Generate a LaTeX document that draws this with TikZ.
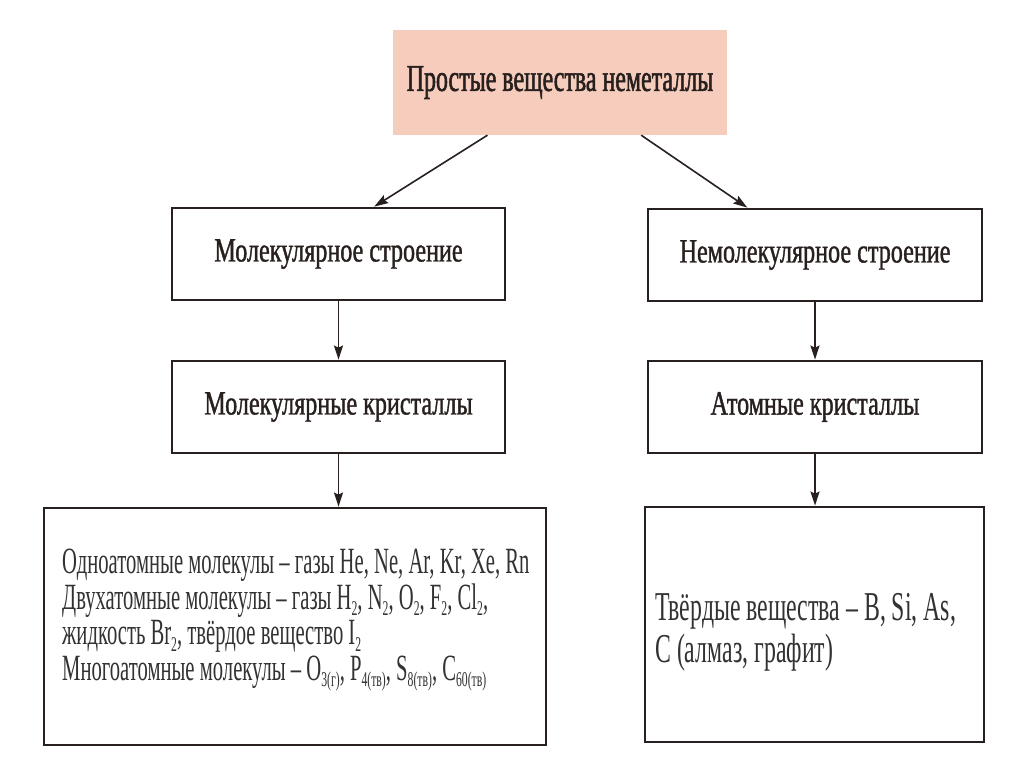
\documentclass[tikz,border=0pt]{standalone}
\usepackage{fontspec}
\usepackage{graphicx}
\setmainfont{Liberation Serif}
\newfontfamily\ttlfont[FakeStretch=0.63,FakeBold=1.4]{Liberation Serif}
\newfontfamily\hdrfont[FakeStretch=0.71,FakeBold=1.1]{Liberation Serif}
\newfontfamily\bodfont{Liberation Serif}
\usetikzlibrary{arrows.meta,calc}
\definecolor{pinkfill}{RGB}{246,204,188}
\definecolor{ink}{RGB}{40,32,30}
\definecolor{txt}{RGB}{50,50,50}
\newcommand\sbx[1]{\raisebox{-0.17em}[0pt][0pt]{\fontsize{21}{21}\selectfont #1}}
\begin{document}
\begin{tikzpicture}[x=1pt,y=-1pt,
  topbox/.style={rectangle,fill=pinkfill,minimum width=334pt,minimum height=105pt,inner sep=0pt,text=ink,font=\ttlfont\fontsize{38}{40}\selectfont},
  hdrbox/.style={rectangle,draw=ink,line width=2.8pt,fill=white,minimum width=333pt,minimum height=92pt,inner sep=0pt,text=ink,font=\hdrfont\fontsize{34}{36}\selectfont},
  bigbox/.style={rectangle,draw=ink,line width=2.8pt,fill=white,inner sep=0pt},
  bodytext/.style={inner sep=0pt,anchor=base west,text=txt},
  conn/.style={draw=ink,line width=1.6pt,-{Stealth[length=14pt,width=9pt,inset=2pt]}}]
\useasboundingbox (0,0) rectangle (1024,767);
\fill[white] (0,0) rectangle (1024,767);
\node[topbox] (top) at (560,82.5) {Простые вещества неметаллы};
\node[hdrbox] (L1) at (338.5,254) {Молекулярное строение};
\node[hdrbox] (L2) at (338.5,407) {Молекулярные кристаллы};
\node[hdrbox,minimum width=334pt] (R1) at (815,255) {Немолекулярное строение};
\node[hdrbox,minimum width=334pt] (R2) at (815,407) {Атомные кристаллы};
\node[bigbox,minimum width=502pt,minimum height=237pt] (LB) at (295,626.5) {};
\node[bigbox,minimum width=339pt,minimum height=235pt] (RB) at (814.5,624.5) {};
\node[bodytext,font=\bodfont\fontsize{37}{35.5}\selectfont] (LBt) at (62,573)
 {\scalebox{0.558}[1]{\begin{tabular}[t]{@{}l@{}}
  Одноатомные молекулы – газы He, Ne, Ar, Kr, Xe, Rn\\
  Двухатомные молекулы – газы H\sbx{2}, N\sbx{2}, O\sbx{2}, F\sbx{2}, Cl\sbx{2},\\
  жидкость Br\sbx{2}, твёрдое вещество I\sbx{2}\\
  Многоатомные молекулы – O\sbx{3(г)}, P\sbx{4(тв)}, S\sbx{8(тв)}, C\sbx{60(тв)}
 \end{tabular}}};
\node[bodytext,font=\bodfont\fontsize{41}{42}\selectfont] (RBt) at (655,620)
 {\scalebox{0.581}[1]{\begin{tabular}[t]{@{}l@{}}
  Твёрдые вещества – B, Si, As,\\ C (алмаз, графит)
 \end{tabular}}};
\draw[conn] (top.216) -- (L1.53);
\draw[conn] (top.327.4) -- (R1.145.5);
\draw[conn] (L1.south) -- (L2.north);
\draw[conn] (R1.south) -- (R2.north);
\draw[conn] (L2.south) -- (L2.south |- LB.north);
\draw[conn] (R2.south) -- (R2.south |- RB.north);
\end{tikzpicture}
\end{document}
